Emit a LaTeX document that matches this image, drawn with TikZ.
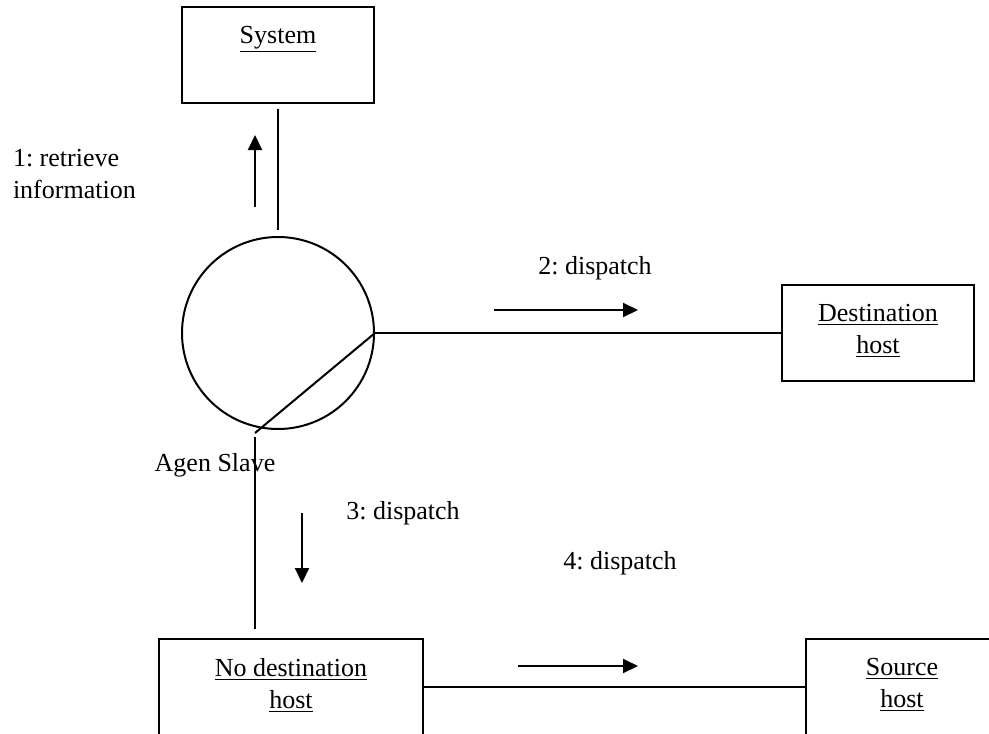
\documentclass[tikz,border=0pt]{standalone}
\usepackage{fontspec}
\setmainfont{Liberation Serif}
\usetikzlibrary{arrows.meta}
\frenchspacing
\begin{document}
\begin{tikzpicture}[x=0.5pt, y=-0.5pt, line width=1pt,
	font=\fontsize{13}{16}\selectfont,
	>={Triangle[length=7.5pt,width=7pt]},
	objbox/.style={draw, minimum width=96pt, minimum height=48pt, inner sep=0pt},
	objname/.style={anchor=north, align=center, inner sep=0pt, yshift=-9.5pt},
	msg/.style={inner sep=0pt}]
\useasboundingbox (0,0) rectangle (989,733);
% objects
\node[objbox, label={[objname]north:\underline{System}}] (system) at (278,55) {};
\node[draw, circle, minimum size=96pt, inner sep=0pt] (agent) at (278,333) {};
\node[objbox, label={[objname]north:\underline{Destination}\\\underline{host}}] (dest) at (878,333) {};
\node[objbox, minimum width=132pt, label={[objname]north:\underline{No destination}\\\underline{host}}] (nodest) at (291,687) {};
\node[objbox, label={[objname]north:\underline{Source}\\\underline{host}}] (source) at (902,687) {};
% links
\coordinate (bend) at (255,433);
\draw[shorten <=2.5pt, shorten >=3pt] (system.south) -- (agent.north);
\draw (agent.east) -- (dest.west);
\draw (agent.east) -- (bend);
\draw[shorten <=2pt, shorten >=4.5pt] (bend) -- (bend |- nodest.north);
\draw (nodest.east) -- (source.west);
% messages
\foreach \m / \xa / \ya / \xb / \yb in {1/255/207/255/135, 2/494/310/638/310, 3/302/513/302/583, 4/518/666/638/666} {
	\coordinate (m\m s) at (\xa,\ya);
	\coordinate (m\m e) at (\xb,\yb);
	\draw[->] (m\m s) -- (m\m e);
}
\node[msg, align=left, anchor=west] (retrieve) at (12,174) {1: retrieve\\information};
\node[msg] (disp2) at (595,268) {2: dispatch};
\node[msg] (disp3) at (403,513) {3: dispatch};
\node[msg] (disp4) at (620,563) {4: dispatch};
\node[msg] (slavename) at (215,465) {Agen Slave};
\end{tikzpicture}
\end{document}
